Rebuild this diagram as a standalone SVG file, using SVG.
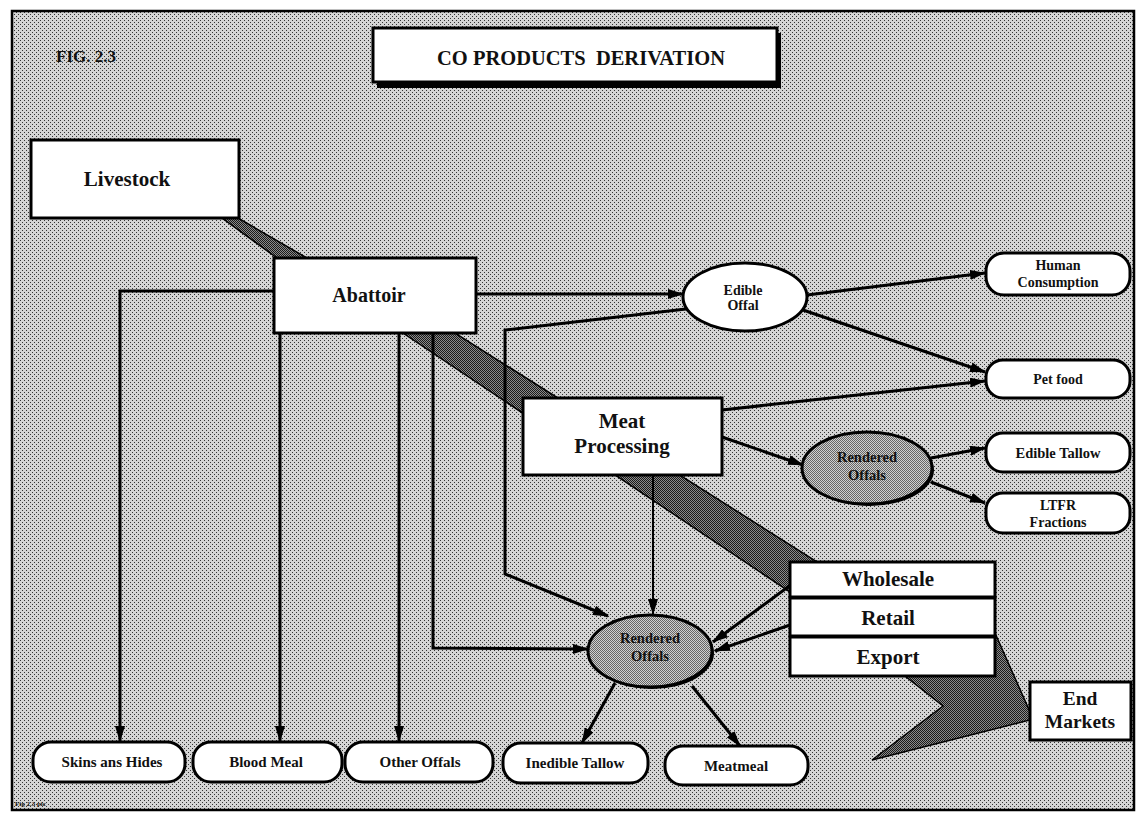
<svg xmlns="http://www.w3.org/2000/svg" width="1138" height="819" viewBox="0 0 1138 819">
<style>
.t{font-family:"Liberation Serif","Times New Roman",serif;font-weight:bold;fill:#111;text-anchor:middle}
.box{fill:#fff;stroke:#000;stroke-width:3}
.rbox{fill:#fff;stroke:#000;stroke-width:3}
.ln{fill:none;stroke:#000;stroke-width:3;marker-end:url(#ah)}
.ln2{fill:none;stroke:#000;stroke-width:2;marker-end:url(#ah)}
.band{fill:url(#dark);stroke:#000;stroke-width:1.5}
.ro{fill:url(#mid);stroke:#000;stroke-width:3}
</style>
<defs>
<pattern id="bg" width="4" height="4" patternUnits="userSpaceOnUse"><rect width="4" height="4" fill="#d4d4d4"/><rect width="1" height="1" fill="#333"/><rect x="2" y="2" width="1" height="1" fill="#333"/></pattern>
<pattern id="dark" width="2" height="2" patternUnits="userSpaceOnUse"><rect width="2" height="2" fill="#8a8a8a"/><rect width="1" height="1" fill="#1a1a1a"/><rect x="1" y="1" width="1" height="1" fill="#1a1a1a"/></pattern>
<pattern id="mid" width="2" height="2" patternUnits="userSpaceOnUse"><rect width="2" height="2" fill="#d0d0d0"/><rect width="1" height="1" fill="#666"/><rect x="1" y="1" width="1" height="1" fill="#666"/></pattern>
<marker id="ah" markerWidth="16" markerHeight="10" refX="15" refY="5" orient="auto" markerUnits="userSpaceOnUse"><path d="M0,0 L16,5 L0,10 Z" fill="#000"/></marker>
</defs>
<rect width="1138" height="819" fill="#fff"/>
<rect x="12" y="11" width="1122" height="799" fill="url(#bg)" stroke="#000" stroke-width="2.5"/>
<text x="86" y="62" class="t" font-size="17">FIG. 2.3</text>
<g id="title">
<rect x="377" y="33" width="404" height="55" fill="#000"/>
<rect x="373" y="28" width="404" height="54" class="box" stroke-width="2"/>
<text x="581" y="65" class="t" font-size="20.5" xml:space="preserve">CO PRODUCTS  DERIVATION</text>
</g>
<g id="flow">
<polygon class="band" points="222,218 238,218 307,258 277,258"/>
<polygon class="band" points="403,333 455,333 822,565 790,592"/>
<polygon class="band" points="995,633 1030,712 1030,720 872,760 943,706 905,676 995,676"/>
</g>
<g id="connectors">
<polyline class="ln" points="274,291 120,291 120,741"/>
<line class="ln" x1="280" y1="333" x2="280" y2="741"/>
<line class="ln" x1="399" y1="333" x2="399" y2="741"/>
<polyline class="ln" points="433,333 433,648 588,649"/>
<line class="ln" x1="476" y1="294" x2="683" y2="294"/>
<polyline class="ln" points="686,309 505,330 505,574 608,616"/>
<line class="ln" x1="807" y1="295" x2="985" y2="273"/>
<line class="ln" x1="803" y1="310" x2="985" y2="372"/>
<line class="ln" x1="722" y1="410" x2="985" y2="381"/>
<line class="ln" x1="722" y1="437" x2="803" y2="465"/>
<line class="ln" x1="931" y1="458" x2="985" y2="448"/>
<line class="ln" x1="931" y1="482" x2="985" y2="503"/>
<line class="ln2" x1="653" y1="475" x2="653" y2="614"/>
<line class="ln" x1="792" y1="584" x2="713" y2="642"/>
<line class="ln" x1="790" y1="625" x2="715" y2="651"/>
<line class="ln" x1="615" y1="683" x2="582" y2="743"/>
<line class="ln" x1="692" y1="686" x2="740" y2="746"/>
</g>
<g id="livestock">
<rect x="31" y="140" width="208" height="78" class="box"/>
<text x="127" y="186" class="t" font-size="21">Livestock</text>
</g>
<g id="abattoir">
<rect x="274" y="258" width="202" height="75" class="box"/>
<text x="369" y="302" class="t" font-size="20">Abattoir</text>
</g>
<g id="edible-offal">
<ellipse cx="745" cy="297" rx="62" ry="34" class="box"/>
<text x="743" y="295" class="t" font-size="14">Edible</text>
<text x="743" y="310" class="t" font-size="14">Offal</text>
</g>
<g id="human-consumption">
<rect x="986" y="253" width="144" height="42" rx="18" class="rbox"/>
<text x="1058" y="270" class="t" font-size="14">Human</text>
<text x="1058" y="287" class="t" font-size="14">Consumption</text>
</g>
<g id="pet-food">
<rect x="986" y="360" width="144" height="38" rx="17" class="rbox"/>
<text x="1058" y="384" class="t" font-size="14">Pet food</text>
</g>
<g id="meat-processing">
<rect x="523" y="398" width="199" height="77" class="box"/>
<text x="622" y="428" class="t" font-size="21">Meat</text>
<text x="622" y="453" class="t" font-size="21">Processing</text>
</g>
<g id="rendered-offals-1">
<ellipse cx="869" cy="470" rx="65" ry="36" fill="#000"/>
<ellipse cx="867" cy="468" rx="65" ry="36" class="ro"/>
<text x="867" y="462" class="t" font-size="14.5" fill="#222">Rendered</text>
<text x="867" y="480" class="t" font-size="14.5" fill="#222">Offals</text>
</g>
<g id="edible-tallow">
<rect x="986" y="433" width="144" height="39" rx="17" class="rbox"/>
<text x="1058" y="458" class="t" font-size="14.5">Edible Tallow</text>
</g>
<g id="ltfr">
<rect x="986" y="493" width="144" height="40" rx="17" class="rbox"/>
<text x="1058" y="510" class="t" font-size="14">LTFR</text>
<text x="1058" y="527" class="t" font-size="14">Fractions</text>
</g>
<g id="wholesale">
<rect x="790" y="562" width="205" height="35" class="box"/>
<text x="888" y="586" class="t" font-size="21">Wholesale</text>
</g>
<g id="retail">
<rect x="790" y="598" width="205" height="38" class="box"/>
<text x="888" y="625" class="t" font-size="21">Retail</text>
</g>
<g id="export">
<rect x="790" y="637" width="205" height="39" class="box"/>
<text x="888" y="664" class="t" font-size="21">Export</text>
</g>
<g id="end-markets">
<rect x="1030" y="682" width="101" height="58" class="box"/>
<text x="1080" y="705" class="t" font-size="19.5">End</text>
<text x="1080" y="728" class="t" font-size="19.5">Markets</text>
</g>
<g id="rendered-offals-2">
<ellipse cx="652" cy="653" rx="62" ry="36" fill="#000"/>
<ellipse cx="650" cy="651" rx="62" ry="36" class="ro"/>
<text x="650" y="643" class="t" font-size="14.5" fill="#222">Rendered</text>
<text x="650" y="661" class="t" font-size="14.5" fill="#222">Offals</text>
</g>
<g id="skins">
<rect x="33" y="742" width="152" height="40" rx="18" class="rbox"/>
<text x="112" y="767" class="t" font-size="15">Skins ans Hides</text>
</g>
<g id="blood-meal">
<rect x="193" y="742" width="149" height="40" rx="18" class="rbox"/>
<text x="266" y="767" class="t" font-size="15">Blood Meal</text>
</g>
<g id="other-offals">
<rect x="345" y="742" width="148" height="40" rx="18" class="rbox"/>
<text x="420" y="767" class="t" font-size="15">Other Offals</text>
</g>
<g id="inedible-tallow">
<rect x="503" y="743" width="145" height="40" rx="18" class="rbox"/>
<text x="575" y="768" class="t" font-size="15">Inedible Tallow</text>
</g>
<g id="meatmeal">
<rect x="665" y="746" width="143" height="39" rx="18" class="rbox"/>
<text x="736" y="771" class="t" font-size="15">Meatmeal</text>
</g>
<text x="15" y="806" font-family="Liberation Serif, serif" font-weight="bold" font-size="7" fill="#111">Fig 2.3 pic</text>
</svg>
